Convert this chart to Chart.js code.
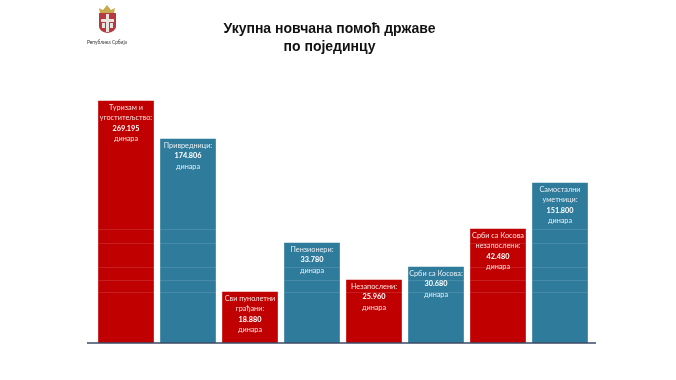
<!DOCTYPE html>
<html lang="sr">
  <head>
    <meta charset="utf-8">
    <title>Укупна новчана помоћ државе по појединцу</title>
    <style>
      html, body { margin: 0; padding: 0; background: #fff; }
      #wrap { width: 676px; height: 380px; }
    </style>
  </head>
  <body>
    <div id="wrap"><canvas id="myChart"></canvas></div>

    <script src="https://cdn.jsdelivr.net/npm/chart.js@4/dist/chart.umd.js"></script>
    <script>
      const titleLines = ['Укупна новчана помоћ државе', 'по појединцу'];
      const categories = [
        ['Туризам и', 'угоститељство:'],
        ['Привредници:'],
        ['Сви пунолетни', 'грађани:'],
        ['Пензионери:'],
        ['Незапослени:'],
        ['Срби са Косова:'],
        ['Срби са Косова', 'незапослени:'],
        ['Самостални', 'уметници:']
      ];
      const dinars = ['269.195', '174.806', '18.880', '33.780', '25.960', '30.680', '42.480', '151.800'];
      // the source bars are not to scale with the printed amounts, so these are bar heights read off the picture
      const barHeights = [242, 204, 51, 100, 63, 76, 114, 160];
      const colors = ['#c00000', '#2e7b9c', '#c00000', '#2e7b9c', '#c00000', '#2e7b9c', '#c00000', '#2e7b9c'];
      // levels of the faint lines that show through the bars
      const gridLevels = [51, 63, 76, 100, 114];

      const barText = {
        id: 'barText',
        afterDatasetsDraw(chart) {
          const ctx = chart.ctx;
          const bars = chart.getDatasetMeta(0).data;
          const y = chart.scales.y;

          // faint lines, only inside the bars
          ctx.save();
          ctx.strokeStyle = 'rgba(255,255,255,0.12)';
          ctx.lineWidth = 1;
          bars.forEach((bar, i) => {
            gridLevels.forEach(level => {
              if (level >= barHeights[i]) return;
              const py = Math.round(y.getPixelForValue(level)) + 0.5;
              ctx.beginPath();
              ctx.moveTo(bar.x - bar.width / 2, py);
              ctx.lineTo(bar.x + bar.width / 2, py);
              ctx.stroke();
            });
          });
          ctx.restore();

          // labels
          ctx.save();
          ctx.textAlign = 'center';
          ctx.textBaseline = 'middle';
          bars.forEach((bar, i) => {
            let py = bar.y + 6.5;
            categories[i].forEach(line => {
              ctx.font = '7.3px Lato';
              ctx.fillStyle = 'rgba(255,255,255,0.88)';
              ctx.fillText(line, bar.x, py);
              py += 10.4;
            });
            ctx.font = 'bold 7.3px Lato';
            ctx.fillStyle = '#fff';
            ctx.fillText(dinars[i], bar.x, py);
            py += 10.4;
            ctx.font = '7.3px Lato';
            ctx.fillStyle = 'rgba(255,255,255,0.88)';
            ctx.fillText('динара', bar.x, py);
          });
          ctx.restore();

          // baseline
          const base = y.getPixelForValue(0);
          ctx.save();
          ctx.strokeStyle = '#3d4a66';
          ctx.lineWidth = 1.5;
          ctx.beginPath();
          ctx.moveTo(chart.chartArea.left - 8, base);
          ctx.lineTo(chart.chartArea.right + 5, base);
          ctx.stroke();
          ctx.restore();
        }
      };

      const header = {
        id: 'header',
        afterDraw(chart) {
          const ctx = chart.ctx;
          ctx.save();
          ctx.textAlign = 'center';
          ctx.textBaseline = 'middle';
          ctx.fillStyle = '#111';
          ctx.font = 'bold 14px "Liberation Sans"';
          titleLines.forEach((line, i) => ctx.fillText(line, 329.5, 29 + i * 18.5));

          // coat of arms
          ctx.fillStyle = '#c9a94e';
          ctx.beginPath();
          ctx.moveTo(100, 13);
          ctx.lineTo(99, 8);
          ctx.lineTo(103, 10);
          ctx.lineTo(107, 5);
          ctx.lineTo(111, 10);
          ctx.lineTo(115, 8);
          ctx.lineTo(114, 13);
          ctx.closePath();
          ctx.fill();
          ctx.fillStyle = '#b5393f';
          ctx.beginPath();
          ctx.moveTo(99, 13);
          ctx.lineTo(116, 13);
          ctx.lineTo(116, 27);
          ctx.quadraticCurveTo(115, 32, 107.5, 33);
          ctx.quadraticCurveTo(100, 32, 99, 27);
          ctx.closePath();
          ctx.fill();
          ctx.fillStyle = '#e9e3e0';
          ctx.fillRect(106, 14, 3, 18);
          ctx.fillRect(101, 19, 13, 3);
          ctx.fillRect(102, 23, 3, 5);
          ctx.fillRect(110, 23, 3, 5);

          ctx.fillStyle = '#333';
          ctx.font = '4.8px Lato';
          ctx.fillText('Република Србија', 107, 42);
          ctx.restore();
        }
      };

      new Chart(document.getElementById('myChart'), {
        type: 'bar',
        data: {
          labels: categories.map(c => c.join(' ')),
          datasets: [{
            data: barHeights,
            backgroundColor: colors,
            barThickness: 55
          }]
        },
        options: {
          responsive: true,
          maintainAspectRatio: false,
          animation: false,
          layout: { padding: { left: 95, right: 85, top: 43, bottom: 37 } },
          plugins: { legend: { display: false }, title: { display: false }, tooltip: { enabled: false } },
          scales: {
            x: { display: false },
            y: { display: false, min: 0, max: 300 }
          }
        },
        plugins: [barText, header]
      });
    </script>
  </body>
</html>
